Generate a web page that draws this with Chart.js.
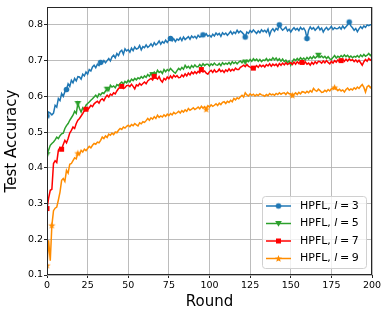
<!DOCTYPE html>
<html>
<head>
<meta charset="utf-8">
<script src="https://cdn.jsdelivr.net/npm/chart.js"></script>
<style>
  html, body { margin: 0; padding: 0; background: #fff; }
  #wrap { width: 388px; height: 317px; }
</style>
</head>
<body>
<div id="wrap"><canvas id="acc-chart" width="388" height="317"></canvas></div>
<script>
// ── data ────────────────────────────────────────────
const rounds = Array.from({ length: 201 }, (_, i) => i);
const xTicks = [0, 25, 50, 75, 100, 125, 150, 175, 200];
const yTicks = [0.1, 0.2, 0.3, 0.4, 0.5, 0.6, 0.7, 0.8];

const legendPrefix = 'HPFL, ';
const legendVar = 'l';
const legendValues = ['3', '5', '7', '9'];

// test accuracy per round, l = 3
const blueAcc = [
  0.545,0.556,0.553,0.548,0.553,0.575,0.57,0.594,0.588,0.608,
  0.60,0.613,0.619,0.635,0.628,0.645,0.638,0.65,0.643,0.655,
  0.654,0.648,0.662,0.657,0.668,0.662,0.675,0.671,0.682,0.687,
  0.68,0.69,0.686,0.695,0.693,0.70,0.694,0.70,0.706,0.699,
  0.71,0.715,0.708,0.72,0.714,0.725,0.729,0.718,0.733,0.727,
  0.731,0.724,0.735,0.728,0.738,0.732,0.734,0.742,0.73,0.739,
  0.736,0.744,0.737,0.741,0.747,0.74,0.75,0.744,0.748,0.755,
  0.746,0.753,0.749,0.757,0.751,0.758,0.762,0.755,0.761,0.753,
  0.76,0.757,0.764,0.756,0.766,0.759,0.763,0.767,0.76,0.769,
  0.764,0.768,0.762,0.771,0.766,0.768,0.772,0.77,0.775,0.768,
  0.771,0.766,0.774,0.769,0.777,0.772,0.776,0.768,0.778,0.773,
  0.777,0.771,0.776,0.782,0.774,0.78,0.776,0.785,0.778,0.783,
  0.779,0.774,0.766,0.78,0.776,0.784,0.779,0.786,0.781,0.776,
  0.783,0.778,0.786,0.781,0.785,0.779,0.788,0.771,0.784,0.789,
  0.782,0.79,0.786,0.80,0.791,0.785,0.789,0.794,0.783,0.788,
  0.78,0.787,0.792,0.786,0.79,0.784,0.793,0.787,0.791,0.783,
  0.762,0.785,0.794,0.788,0.792,0.785,0.79,0.795,0.786,0.791,
  0.78,0.788,0.793,0.786,0.79,0.796,0.787,0.792,0.789,0.79,
  0.794,0.788,0.797,0.79,0.795,0.8,0.808,0.797,0.792,0.785,
  0.79,0.781,0.789,0.795,0.79,0.797,0.793,0.8,0.798,0.8,
  0.80
];

// l = 5
const greenAcc = [
  0.437,0.45,0.463,0.468,0.472,0.478,0.486,0.482,0.49,0.495,
  0.497,0.51,0.518,0.524,0.533,0.54,0.547,0.558,0.552,0.58,
  0.566,0.556,0.568,0.562,0.575,0.58,0.584,0.589,0.593,0.598,
  0.603,0.597,0.607,0.604,0.61,0.608,0.615,0.62,0.616,0.631,
  0.626,0.629,0.624,0.633,0.63,0.636,0.64,0.634,0.642,0.638,
  0.645,0.64,0.648,0.644,0.65,0.646,0.652,0.649,0.655,0.651,
  0.657,0.653,0.661,0.656,0.664,0.661,0.668,0.662,0.673,0.667,
  0.67,0.664,0.675,0.669,0.675,0.671,0.678,0.673,0.668,0.665,
  0.672,0.678,0.674,0.681,0.676,0.687,0.68,0.684,0.678,0.686,
  0.681,0.688,0.683,0.683,0.689,0.684,0.691,0.686,0.69,0.69,
  0.685,0.691,0.687,0.693,0.688,0.687,0.692,0.686,0.694,0.689,
  0.693,0.69,0.695,0.689,0.697,0.692,0.696,0.691,0.696,0.699,
  0.694,0.7,0.696,0.701,0.697,0.703,0.698,0.705,0.7,0.704,
  0.698,0.703,0.697,0.702,0.7,0.706,0.699,0.704,0.701,0.708,
  0.702,0.707,0.7,0.705,0.698,0.704,0.697,0.701,0.694,0.699,
  0.687,0.698,0.704,0.7,0.706,0.701,0.708,0.703,0.707,0.702,
  0.709,0.704,0.71,0.705,0.712,0.707,0.711,0.715,0.709,0.713,
  0.708,0.712,0.706,0.711,0.705,0.703,0.709,0.714,0.707,0.712,
  0.709,0.714,0.71,0.716,0.711,0.715,0.709,0.713,0.708,0.712,
  0.71,0.714,0.709,0.716,0.711,0.717,0.712,0.715,0.72,0.714,
  0.72
];

// l = 7
const redAcc = [
  0.286,0.315,0.337,0.34,0.412,0.42,0.415,0.449,0.457,0.452,
  0.465,0.477,0.47,0.482,0.497,0.505,0.514,0.51,0.524,0.533,
  0.538,0.545,0.552,0.56,0.564,0.562,0.568,0.575,0.571,0.579,
  0.583,0.586,0.581,0.59,0.593,0.588,0.597,0.603,0.598,0.606,
  0.603,0.61,0.607,0.615,0.622,0.626,0.628,0.622,0.624,0.63,
  0.631,0.627,0.634,0.628,0.621,0.632,0.629,0.636,0.631,0.636,
  0.64,0.635,0.643,0.647,0.65,0.646,0.656,0.652,0.648,0.655,
  0.645,0.64,0.65,0.646,0.654,0.649,0.657,0.651,0.659,0.654,
  0.658,0.652,0.653,0.66,0.655,0.663,0.657,0.665,0.66,0.668,
  0.663,0.669,0.664,0.67,0.666,0.675,0.668,0.671,0.665,0.662,
  0.669,0.673,0.667,0.674,0.668,0.67,0.676,0.669,0.673,0.667,
  0.674,0.67,0.677,0.671,0.676,0.672,0.679,0.675,0.675,0.681,
  0.684,0.687,0.683,0.689,0.684,0.682,0.678,0.679,0.68,0.686,
  0.681,0.688,0.683,0.687,0.682,0.689,0.685,0.691,0.684,0.69,
  0.686,0.69,0.684,0.692,0.687,0.693,0.688,0.694,0.689,0.692,
  0.694,0.689,0.696,0.69,0.697,0.692,0.698,0.695,0.691,0.696,
  0.69,0.693,0.687,0.695,0.69,0.697,0.692,0.698,0.697,0.693,
  0.699,0.694,0.7,0.695,0.691,0.698,0.693,0.7,0.696,0.702,
  0.697,0.7,0.703,0.698,0.704,0.699,0.705,0.7,0.703,0.697,
  0.702,0.696,0.701,0.694,0.687,0.697,0.703,0.698,0.706,0.701,
  0.706
];

// l = 9
const orangeAcc = [
  0.127,0.197,0.14,0.239,0.28,0.287,0.29,0.31,0.332,0.365,
  0.37,0.362,0.393,0.385,0.41,0.412,0.42,0.428,0.425,0.441,
  0.437,0.449,0.444,0.452,0.448,0.454,0.46,0.456,0.463,0.468,
  0.466,0.472,0.47,0.477,0.486,0.482,0.489,0.485,0.494,0.491,
  0.497,0.493,0.5,0.498,0.505,0.51,0.507,0.514,0.511,0.516,
  0.519,0.515,0.521,0.518,0.524,0.52,0.517,0.526,0.523,0.529,
  0.527,0.532,0.538,0.533,0.54,0.536,0.543,0.538,0.547,0.541,
  0.545,0.542,0.548,0.544,0.55,0.546,0.552,0.548,0.555,0.551,
  0.554,0.558,0.553,0.56,0.556,0.562,0.558,0.566,0.561,0.564,
  0.568,0.563,0.566,0.57,0.565,0.572,0.567,0.571,0.564,0.574,
  0.57,0.576,0.572,0.575,0.579,0.574,0.581,0.577,0.583,0.585,
  0.58,0.586,0.583,0.589,0.585,0.594,0.59,0.596,0.593,0.599,
  0.603,0.598,0.61,0.604,0.601,0.607,0.603,0.606,0.601,0.605,
  0.602,0.607,0.604,0.603,0.6,0.605,0.602,0.608,0.604,0.606,
  0.603,0.608,0.605,0.61,0.606,0.609,0.61,0.605,0.611,0.607,
  0.607,0.603,0.606,0.61,0.605,0.611,0.607,0.613,0.612,0.609,
  0.614,0.61,0.616,0.612,0.622,0.617,0.614,0.62,0.616,0.611,
  0.612,0.617,0.613,0.619,0.615,0.621,0.621,0.625,0.622,0.616,
  0.62,0.615,0.618,0.612,0.619,0.623,0.617,0.621,0.618,0.624,
  0.62,0.626,0.622,0.628,0.633,0.625,0.612,0.627,0.63,0.624,
  0.63
];

// rounds where a marker is drawn on each curve
const blueMarks = [0, 12, 33, 76, 96, 122, 143, 160, 186];
const greenMarks = [0, 19, 37, 65, 122, 167];
const redMarks = [0, 9, 24, 46, 66, 95, 127, 157, 181];
const orangeMarks = [0, 3, 19, 98, 151, 177];

// ── markers (matplotlib style o, v, s, *) ────────────
function makeMarker(kind, color) {
  const c = document.createElement('canvas');
  c.width = 9; c.height = 9;
  const g = c.getContext('2d');
  g.fillStyle = color;
  g.beginPath();
  if (kind === 'circle') {
    g.arc(4.5, 4.5, 2.8, 0, Math.PI * 2);
  } else if (kind === 'tridown') {
    g.moveTo(1.2, 2.0); g.lineTo(7.8, 2.0); g.lineTo(4.5, 7.8);
  } else if (kind === 'square') {
    g.rect(2.0, 2.0, 5.0, 5.0);
  } else {
    for (let k = 0; k < 10; k++) {
      const r = k % 2 === 0 ? 3.8 : 1.6;
      const a = -Math.PI / 2 + k * Math.PI / 5;
      const px = 4.5 + r * Math.cos(a), py = 4.8 + r * Math.sin(a);
      k === 0 ? g.moveTo(px, py) : g.lineTo(px, py);
    }
  }
  g.closePath();
  g.fill();
  return c;
}

const series = [
  { values: blueAcc,   marks: blueMarks,   color: '#1f77b4', marker: 'circle' },
  { values: greenAcc,  marks: greenMarks,  color: '#2ca02c', marker: 'tridown' },
  { values: redAcc,    marks: redMarks,    color: '#ff0000', marker: 'square' },
  { values: orangeAcc, marks: orangeMarks, color: '#ff8c00', marker: 'star' }
];
series.forEach(s => { s.img = makeMarker(s.marker, s.color); });

// ── plugins: frame + legend ──────────────────────────
const framePlugin = {
  id: 'frame',
  afterDatasetsDraw(chart) {
    const { ctx, chartArea: a } = chart;
    ctx.save();
    ctx.strokeStyle = '#262626';
    ctx.lineWidth = 1;
    ctx.strokeRect(Math.round(a.left) + 0.5, Math.round(a.top) + 0.5,
      Math.round(a.right - a.left) - 1, Math.round(a.bottom - a.top) - 1);
    ctx.restore();
  }
};

const legendPlugin = {
  id: 'mplLegend',
  afterDraw(chart) {
    const ctx = chart.ctx;
    const box = { x: 262.5, y: 196.5, w: 104, h: 72 };
    ctx.save();
    ctx.beginPath();
    ctx.roundRect(box.x, box.y, box.w, box.h, 3);
    ctx.fillStyle = 'rgba(255,255,255,0.8)';
    ctx.fill();
    ctx.strokeStyle = '#d0d0d0';
    ctx.lineWidth = 1;
    ctx.stroke();

    series.forEach((s, i) => {
      const cy = 206 + i * 17.5;
      ctx.strokeStyle = s.color;
      ctx.lineWidth = 1.5;
      ctx.beginPath();
      ctx.moveTo(266, cy); ctx.lineTo(291, cy);
      ctx.stroke();
      ctx.drawImage(s.img, 278.5 - 4.5, cy - 4.5);

      ctx.fillStyle = '#000';
      ctx.textBaseline = 'middle';
      let x = 300;
      ctx.font = '11px "DejaVu Sans"';
      ctx.fillText(legendPrefix, x, cy);
      x += ctx.measureText(legendPrefix).width;
      ctx.font = 'italic 11px "DejaVu Sans"';
      ctx.fillText(legendVar, x, cy);
      x += ctx.measureText(legendVar).width + 2.5;
      ctx.font = '11px "DejaVu Sans"';
      ctx.fillText('=', x, cy);
      x += ctx.measureText('=').width + 2.5;
      ctx.fillText(legendValues[i], x, cy);
    });
    ctx.restore();
  }
};

// ── chart ────────────────────────────────────────────
Chart.defaults.font.family = '"DejaVu Sans"';
Chart.defaults.color = '#000';

const gridColor = 'rgba(176,176,176,0.85)';

new Chart(document.getElementById('acc-chart').getContext('2d'), {
  type: 'line',
  data: {
    datasets: series.map((s, i) => ({
      label: legendPrefix + legendVar + '=' + legendValues[i],
      data: s.values.map((v, k) => ({ x: rounds[k], y: v })),
      borderColor: s.color,
      backgroundColor: s.color,
      borderWidth: 1.5,
      tension: 0,
      fill: false,
      pointStyle: s.img,
      pointRadius: c => s.marks.includes(c.dataIndex) ? 3 : 0,
      pointHoverRadius: 0,
      order: 3 - i
    }))
  },
  options: {
    responsive: false,
    animation: false,
    devicePixelRatio: 1,
    events: [],
    layout: { padding: { top: 7, right: 16, left: 0, bottom: 0 } },
    plugins: { legend: { display: false }, tooltip: { enabled: false } },
    scales: {
      x: {
        type: 'linear',
        min: 0,
        max: 200,
        afterBuildTicks: scale => { scale.ticks = xTicks.map(v => ({ value: v })); },
        afterFit: scale => { scale.height = 42; },
        ticks: { font: { size: 9.5 }, padding: 2, maxRotation: 0, autoSkip: false, color: '#000' },
        grid: { color: gridColor, lineWidth: 1, tickColor: '#262626', tickLength: 3 },
        border: { display: false },
        title: { display: true, text: 'Round', font: { size: 15 }, padding: { top: 0, bottom: 6 }, color: '#000' }
      },
      y: {
        min: 0.1,
        max: 0.85,
        afterBuildTicks: scale => { scale.ticks = yTicks.map(v => ({ value: v })); },
        afterFit: scale => { scale.width = 47; },
        ticks: { font: { size: 9.5 }, padding: 1, color: '#000', callback: v => v.toFixed(1) },
        grid: { color: gridColor, lineWidth: 1, tickColor: '#262626', tickLength: 3 },
        border: { display: false },
        title: { display: true, text: 'Test Accuracy', font: { size: 15 }, padding: { top: 3, bottom: 0 }, color: '#000' }
      }
    }
  },
  plugins: [framePlugin, legendPlugin]
});
</script>
</body>
</html>
